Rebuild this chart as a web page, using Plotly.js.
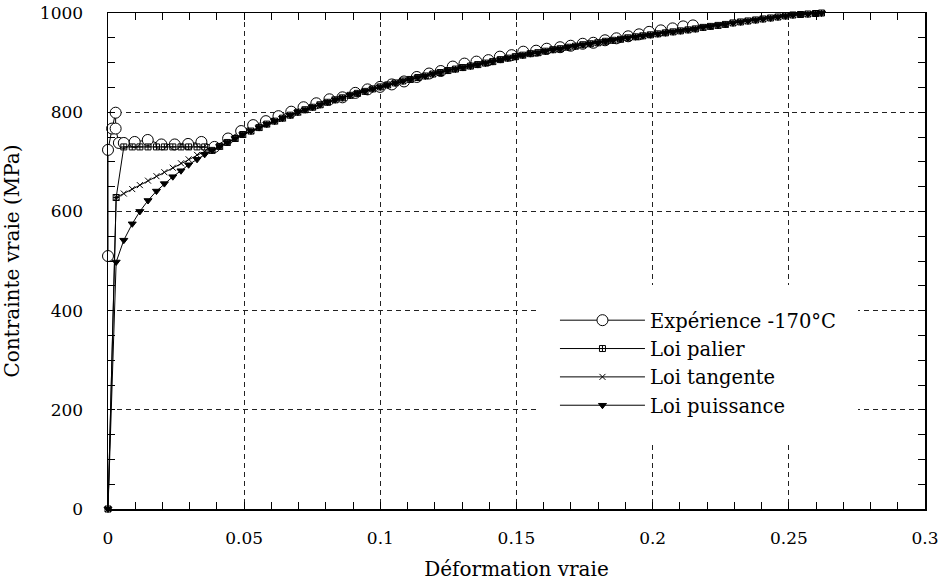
<!DOCTYPE html>
<html>
<head>
<meta charset="utf-8">
<script src="https://cdn.plot.ly/plotly-3.0.1.min.js"></script>
<style>html,body{margin:0;padding:0;background:#fff;}#chart{width:941px;height:581px;}</style>
</head>
<body>
<div id="chart"></div>
<script>
// Experimental curve (circles)
var expStrain = [0, 0, 0.0015, 0.0028, 0.0028, 0.0040, 0.0058, 0.0098, 0.0146, 0.0196, 0.0245, 0.0294, 0.0343, 0.0391, 0.0441, 0.0489,
  0.0533, 0.0580, 0.0626, 0.0673, 0.0718, 0.0765, 0.0813, 0.0861, 0.0908, 0.0953, 0.0999, 0.1042, 0.1087, 0.1134, 0.1179, 0.1222, 0.1266, 0.1309,
  0.1353, 0.1397, 0.1439, 0.1482, 0.1525, 0.1572, 0.1611, 0.1660, 0.1699, 0.1743, 0.1782, 0.1825, 0.1867, 0.1910, 0.1950, 0.1987, 0.2030, 0.2073, 0.2112, 0.2148];
var expStress = [510, 724, 767, 799, 767, 738, 738, 740, 744, 735, 735, 736, 740, 730, 747, 762,
  774, 782, 792, 801, 810, 818, 826, 830, 839, 846, 851, 856, 862, 871, 878, 883, 892, 898,
  902, 905, 912, 915, 922, 924, 928, 931, 934, 938, 940, 945, 949, 953, 957, 962, 965, 969, 973, 975];

// Early part of the three model laws (distinct)
var earlyStrain = [0, 0.0030, 0.0058, 0.0089, 0.0117, 0.0147, 0.0178, 0.0207, 0.0238, 0.0268, 0.0296, 0.0327, 0.0355];
var palierStress = [0, 628, 730, 730, 730, 730, 730, 730, 730, 730, 730, 730, 730];
var tangenteStress = [0, 628, 636, 645, 653, 662, 671, 679, 688, 697, 705, 714, 721];
var puissanceStress = [0, 498, 542, 575, 600, 622, 641, 656, 670, 682, 694, 705, 715];

// Common hardening part shared by the three laws
var commonStrain = [0.0382, 0.0410, 0.0438, 0.0467, 0.0495, 0.0525, 0.0555, 0.0583, 0.0612, 0.0641, 0.0669, 0.0697, 0.0724, 0.0751, 0.0779,
  0.0806, 0.0834, 0.0861, 0.0889, 0.0916, 0.0944, 0.0972, 0.1000, 0.1027, 0.1055, 0.1083, 0.1110, 0.1138, 0.1165, 0.1193, 0.1220, 0.1248,
  0.1276, 0.1303, 0.1331, 0.1358, 0.1386, 0.1413, 0.1441, 0.1468, 0.1496, 0.1523, 0.1551, 0.1579, 0.1606, 0.1634, 0.1661, 0.1689, 0.1716,
  0.1744, 0.1771, 0.1799, 0.1827, 0.1854, 0.1882, 0.1909, 0.1937, 0.1964, 0.1992, 0.2019, 0.2047, 0.2075, 0.2102, 0.2130, 0.2157, 0.2185,
  0.2212, 0.2240, 0.2267, 0.2295, 0.2323, 0.2350, 0.2378, 0.2405, 0.2433, 0.2460, 0.2488, 0.2515, 0.2543, 0.2570, 0.2598, 0.2620];
var commonStress = [723, 731, 739, 747, 755, 762, 769, 776, 782, 788, 794, 800, 805, 810, 815,
  820, 825, 829, 834, 838, 842, 847, 851, 855, 859, 863, 866, 870, 873, 877, 880, 884,
  887, 890, 893, 896, 899, 902, 906, 909, 912, 915, 918, 920, 923, 926, 928, 931, 933,
  936, 938, 940, 943, 945, 947, 950, 952, 954, 956, 958, 960, 962, 964, 966, 968, 971,
  973, 975, 977, 980, 982, 984, 986, 988, 990, 992, 994, 996, 997, 998, 999, 1000];

var seriesNames = ['Expérience -170°C', 'Loi palier', 'Loi tangente', 'Loi puissance'];
var xTickVals = [0, 0.05, 0.1, 0.15, 0.2, 0.25, 0.3];
var yTickVals = [0, 200, 400, 600, 800, 1000];

var FONT = '"DejaVu Serif", serif';

function lawTrace(name, early, symbol, size) {
  return {
    x: earlyStrain.concat(commonStrain),
    y: early.concat(commonStress),
    name: name, type: 'scatter', mode: 'lines+markers', cliponaxis: false,
    line: {color: '#000', width: 1},
    marker: {symbol: symbol, size: size, color: '#000', line: {color: '#000', width: 1}}
  };
}

var traces = [
  {
    x: expStrain, y: expStress, name: seriesNames[0], type: 'scatter', mode: 'lines+markers', cliponaxis: false,
    line: {color: '#000', width: 1},
    marker: {symbol: 'circle', size: 11, color: '#fff', line: {color: '#000', width: 1}}
  },
  lawTrace(seriesNames[1], palierStress, 'square-cross-open', 6),
  lawTrace(seriesNames[2], tangenteStress, 'x-thin-open', 6),
  lawTrace(seriesNames[3], puissanceStress, 'triangle-down', 7)
];

var axisCommon = {
  showline: true, linecolor: '#000', linewidth: 1.5, mirror: 'ticks',
  ticks: 'inside', ticklen: 7, tickwidth: 1, tickcolor: '#000',
  showgrid: true, gridcolor: '#222', gridwidth: 1, griddash: '5px,4px',
  zeroline: false, automargin: false,
  tickfont: {family: FONT, size: 17, color: '#000'}
};

var layout = {
  width: 941, height: 581,
  margin: {l: 108, r: 16, t: 13, b: 72},
  paper_bgcolor: '#fff', plot_bgcolor: '#fff',
  showlegend: true,
  xaxis: Object.assign({}, axisCommon, {
    range: [0, 0.3], tickmode: 'array', tickvals: xTickVals,
    ticklabelstandoff: 13,
    minor: {dtick: 0.01, ticks: 'inside', ticklen: 7, tickcolor: '#000', showgrid: false},
    title: {text: 'Déformation vraie', font: {family: FONT, size: 20, color: '#000'}, standoff: 15}
  }),
  yaxis: Object.assign({}, axisCommon, {
    range: [0, 1000], tickmode: 'array', tickvals: yTickVals,
    ticklabelstandoff: 20,
    minor: {dtick: 50, ticks: 'inside', ticklen: 7, tickcolor: '#000', showgrid: false},
    title: {text: 'Contrainte vraie (MPa)', font: {family: FONT, size: 20, color: '#000'}, standoff: 25}
  }),
  legend: {
    x: 0.5275, y: 0.4516, xanchor: 'left', yanchor: 'top',
    bgcolor: '#fff', bordercolor: '#fff', borderwidth: 16,
    font: {family: FONT, size: 19.5, color: '#000'},
    itemwidth: 85, tracegroupgap: 0
  }
};

Plotly.newPlot('chart', traces, layout, {staticPlot: true, displayModeBar: false});
</script>
</body>
</html>
